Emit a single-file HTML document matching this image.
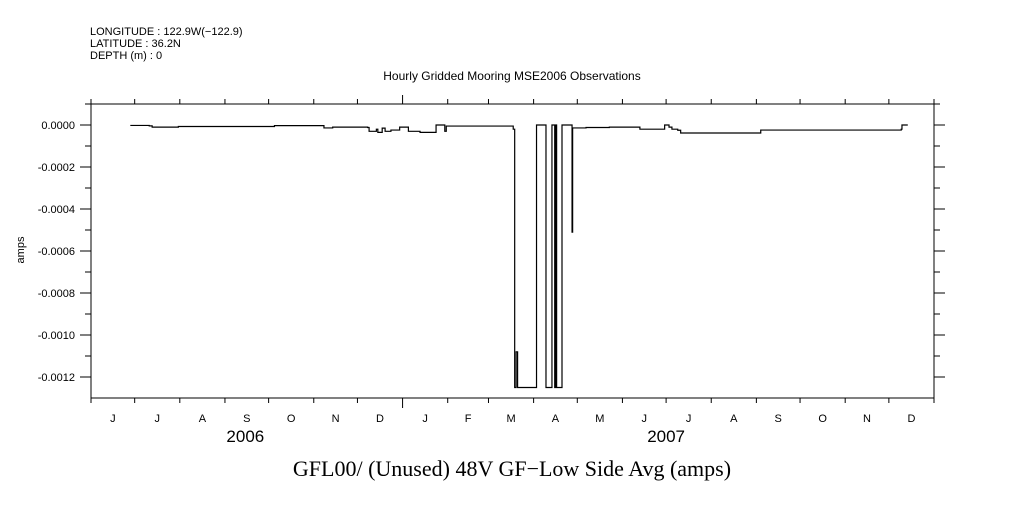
<!DOCTYPE html>
<html><head><meta charset="utf-8"><style>
body{margin:0;background:#fff;}
svg text{font-family:"Liberation Sans",sans-serif;fill:#000;}
</style></head><body>
<svg id="c" width="1009" height="504" xmlns="http://www.w3.org/2000/svg">
<text x="90" y="35" font-size="11">LONGITUDE : 122.9W(−122.9)</text>
<text x="90" y="47" font-size="11">LATITUDE : 36.2N</text>
<text x="90" y="59" font-size="11">DEPTH (m) : 0</text>
<text x="512" y="80" font-size="12" text-anchor="middle">Hourly Gridded Mooring MSE2006 Observations</text>
<text x="24" y="250" font-size="11" text-anchor="middle" transform="rotate(-90 24 250)">amps</text>
<text x="512" y="476" font-size="22" text-anchor="middle" style="font-family:'Liberation Serif',serif">GFL00/ (Unused) 48V GF−Low Side Avg (amps)</text>
<g id="axes"></g>
<path id="line" fill="none" stroke="#000" stroke-width="1.2"/>
</svg>
<script>
const monthLabels=["J","J","A","S","O","N","D","J","F","M","A","M","J","J","A","S","O","N","D"];
const monthDays=[0,30,61,92,122,153,183,214,245,273,304,334,365,395,426,457,487,518,548,579];
const yearLabels=["2006","2007"];
const yearDays=[106,395];
const yTicks=[0,-0.0002,-0.0004,-0.0006,-0.0008,-0.0010,-0.0012];
const yTickLabels=["0.0000","-0.0002","-0.0004","-0.0006","-0.0008","-0.0010","-0.0012"];
// series: day index since 2006-06-01, value in amps
const days=[27,40,42,54,60,125,126,158,160,164,166,175,190,191,196,197,200,202,206,208,212,218,226,236,237,239,243,244,244.5,262,290,291,292,293,294,306,312.5,316.6,318.5,319.3,319.8,323.5,330.4,330.8,340,356,377,394,397,399,403,405,460,556,556.5,557,561];
const vals=[-0.000002,-0.000004,-0.00001,-0.00001,-0.000007,-0.000007,-0.000003,-0.000003,-0.000014,-0.000014,-0.00001,-0.00001,-0.000012,-0.00003,-0.00002,-0.000035,-0.000015,-0.00003,-0.000024,-0.000024,-0.00001,-0.00003,-0.000035,-0.000035,0,0,-0.00003,-0.000005,-0.000005,-0.000005,-0.00002,-0.00125,-0.00108,-0.00125,-0.00125,0,-0.00125,0,-0.00125,0,-0.00125,0,-0.00051,-0.000014,-0.000012,-0.00001,-0.00002,0,-0.00001,-0.00002,-0.000025,-0.000038,-0.000024,-0.000024,-0.00002,0,0];
const L=91,R=934,T=104,B=398;
const xS=d=>L+d*(R-L)/579;
const yS=v=>125+(-v)/0.0002*42;
const NS="http://www.w3.org/2000/svg";
const ax=document.getElementById('axes');
function mk(tag,at){const e=document.createElementNS(NS,tag);for(const k in at)e.setAttribute(k,at[k]);ax.appendChild(e);return e;}
const fr=mk('rect',{x:L,y:T,width:R-L,height:B-T,fill:'none',stroke:'#000','stroke-width':1});


monthDays.forEach((d,i)=>{const x=xS(d);
const t1=mk('line',{x1:x,x2:x,y1:T,y2:T-(d===214?9:5),stroke:'#000'});


const t2=mk('line',{x1:x,x2:x,y1:B,y2:B+(d===214?10:5),stroke:'#000'});


if(i<monthLabels.length){const tx=mk('text',{x:(x+xS(monthDays[i+1]))/2,y:422,'font-size':11,'text-anchor':'middle'});tx.textContent=monthLabels[i];

}});
yearDays.forEach((d,i)=>{const t=mk('text',{x:xS(d),y:442,'font-size':17,'text-anchor':'middle'});t.textContent=yearLabels[i];

});
for(let k=0;k<=13;k++){const v=0.0001-k*0.0001;const y=yS(v);if(y<T||y>B)continue;const major=(k%2===1);const len=major?11:6;
const a=mk('line',{x1:L-len,x2:L,y1:y,y2:y,stroke:'#000'});


const b=mk('line',{x1:R,x2:R+len,y1:y,y2:y,stroke:'#000'});

}
yTicks.forEach((v,i)=>{const t=mk('text',{x:75,y:yS(v)+4,'font-size':11,'text-anchor':'end'});t.textContent=yTickLabels[i];

});
let dstr='';for(let i=0;i<days.length;i++){const x=xS(days[i]),y=yS(vals[i]);
if(i===0)dstr+='M'+x+' '+y;else dstr+=' H'+x+' V'+y;}
document.getElementById('line').setAttribute('d',dstr);
</script>
</body></html>
